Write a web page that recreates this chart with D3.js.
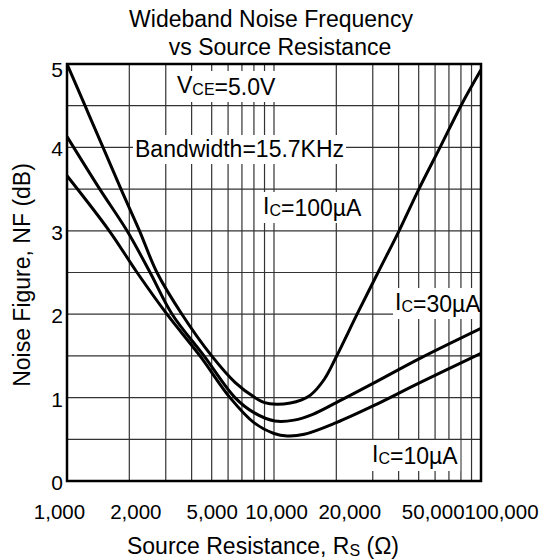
<!DOCTYPE html>
<html><head><meta charset="utf-8">
<script src="https://cdn.jsdelivr.net/npm/d3@7"></script>
<style>
body{margin:0;background:#fff}
svg{display:block}
text{font-family:"Liberation Sans",Arial,Helvetica,sans-serif;fill:#000}
</style>
</head><body>
<svg id="chart" width="547" height="560"></svg>
<script>
// ---- data ----
const titleLines = ["Wideband Noise Frequency", "vs Source Resistance"];
const xTickValues = [1000, 2000, 5000, 10000, 20000, 50000, 100000];
const xTickLabels = ["1,000", "2,000", "5,000", "10,000", "20,000", "50,000", "100,000"];
const yTickValues = [0, 1, 2, 3, 4, 5];

// I_C = 100 uA
const rs100 = [1000, 1222, 1493, 1823, 2240, 2720, 3590, 5000, 6500, 8090, 9000, 10300, 12000, 13500, 15000, 17500, 20000, 25200, 31800, 40200, 50100, 63400, 80000, 100000];
const nf100 = [5.0, 4.5, 4.0, 3.5, 3.0, 2.5, 2.0, 1.5, 1.18, 1.0, 0.94, 0.92, 0.935, 0.97, 1.03, 1.22, 1.49, 2.0, 2.5, 3.0, 3.5, 4.0, 4.5, 4.93];
// I_C = 30 uA
const rs30 = [1000, 1440, 1950, 2520, 3220, 4590, 6480, 8000, 10100, 12500, 15400, 20000, 30100, 50700, 100000];
const nf30 = [4.13, 3.5, 3.0, 2.5, 2.0, 1.5, 1.0, 0.82, 0.72, 0.73, 0.80, 0.94, 1.17, 1.47, 1.83];
// I_C = 10 uA
const rs10 = [1000, 1600, 2180, 3040, 4390, 6130, 8000, 10000, 11600, 14000, 20000, 30100, 50700, 100000];
const nf10 = [3.66, 3.0, 2.5, 2.0, 1.5, 1.0, 0.70, 0.57, 0.54, 0.56, 0.70, 0.90, 1.18, 1.53];

const seriesList = [
  {rs: rs100, nf: nf100},
  {rs: rs30, nf: nf30},
  {rs: rs10, nf: nf10}
];

// ---- layout ----
const svg = d3.select("#chart");
const pL = 67, pR = 481, pT = 64, pB = 481;
const x = d3.scaleLog().domain([1000, 100000]).range([pL, pR]);
const y = d3.scaleLinear().domain([0, 5]).range([pB, pT]);

// title
svg.append("text").attr("x", 271).attr("y", 27).attr("text-anchor", "middle")
  .style("font-size", "23px").text(titleLines[0]);
svg.append("text").attr("x", 280).attr("y", 55).attr("text-anchor", "middle")
  .style("font-size", "23px").text(titleLines[1]);

// grid
const grid = svg.append("g").attr("stroke", "#333").attr("stroke-width", 1.2);
grid.selectAll("line.v").data(x.ticks()).join("line").attr("class", "v")
  .attr("x1", d => x(d)).attr("x2", d => x(d)).attr("y1", pT).attr("y2", pB);
grid.selectAll("line.h").data(y.ticks(10)).join("line").attr("class", "h")
  .attr("y1", d => y(d)).attr("y2", d => y(d)).attr("x1", pL).attr("x2", pR);

// annotations with white boxes
const ann = svg.append("g");
function label(xp, yp, parts) {
  const g = ann.append("g");
  const t = g.append("text").attr("x", xp).attr("y", yp).style("font-size", "23px");
  parts.forEach(p => {
    if (p.sub) {
      t.append("tspan").attr("dy", 2).style("font-size", "16px").text(p.sub);
      t.append("tspan").attr("dy", -2).text("");
    } else {
      t.append("tspan").text(p.t);
    }
  });
  const bb = t.node().getBBox();
  g.insert("rect", "text").attr("x", bb.x - 2).attr("y", bb.y - 1)
    .attr("width", bb.width + 4).attr("height", bb.height + 3).attr("fill", "#fff");
}
label(177, 93, [{t: "V"}, {sub: "CE"}, {t: "=5.0V"}]);
label(135, 157, [{t: "Bandwidth=15.7KHz"}]);
label(263, 214, [{t: "I"}, {sub: "C"}, {t: "=100\u00B5A"}]);
label(395, 310, [{t: "I"}, {sub: "C"}, {t: "=30\u00B5A"}]);
label(372, 462, [{t: "I"}, {sub: "C"}, {t: "=10\u00B5A"}]);

// curves
svg.append("clipPath").attr("id", "clip").append("rect")
  .attr("x", pL).attr("y", pT).attr("width", pR - pL).attr("height", pB - pT);
const line = d3.line().x(d => x(d[0])).y(d => y(d[1])).curve(d3.curveCatmullRom.alpha(0.5));
svg.append("g").attr("clip-path", "url(#clip)").selectAll("path").data(seriesList).join("path")
  .attr("d", s => line(s.rs.map((r, i) => [r, s.nf[i]])))
  .attr("fill", "none").attr("stroke", "#000").attr("stroke-width", 3)
  .attr("stroke-linejoin", "round");

// frame
svg.append("rect").attr("x", pL).attr("y", pT).attr("width", pR - pL).attr("height", pB - pT)
  .attr("fill", "none").attr("stroke", "#000").attr("stroke-width", 2.5);

// x axis labels
const xNudge = [-8, 6, 0, 2, 13, 14, 20];
const xAxis = d3.axisBottom(x).tickValues(xTickValues).tickSize(0)
  .tickFormat((d, i) => xTickLabels[i]);
const gx = svg.append("g").attr("transform", `translate(0,${pB})`).call(xAxis);
gx.select(".domain").remove();
gx.selectAll("text").attr("dx", (d, i) => xNudge[i]).attr("y", 38).attr("dy", 0)
  .style("font-size", "20.5px").attr("fill", "#000")
  .style("font-family", "'Liberation Sans',Arial,sans-serif");

// y axis labels
const yAxis = d3.axisLeft(y).tickValues(yTickValues).tickSize(0).tickFormat(d3.format("d"));
const gy = svg.append("g").attr("transform", `translate(${pL},0)`).call(yAxis);
gy.select(".domain").remove();
gy.selectAll("text").attr("x", -4).attr("dy", 0)
  .attr("y", d => (d === 5 ? 4.5 : 1) + 7.5)
  .style("font-size", "21px").attr("fill", "#000")
  .style("font-family", "'Liberation Sans',Arial,sans-serif");

// axis titles
const xt = svg.append("text").attr("x", 263).attr("y", 554).attr("text-anchor", "middle")
  .style("font-size", "23px");
xt.append("tspan").text("Source Resistance, R");
xt.append("tspan").attr("dy", 2).style("font-size", "16px").text("S");
xt.append("tspan").attr("dy", -2).text(" (\u03A9)");

svg.append("text").attr("transform", "translate(30,275) rotate(-90)").attr("text-anchor", "middle")
  .style("font-size", "23px").text("Noise Figure, NF (dB)");
</script>
</body></html>
